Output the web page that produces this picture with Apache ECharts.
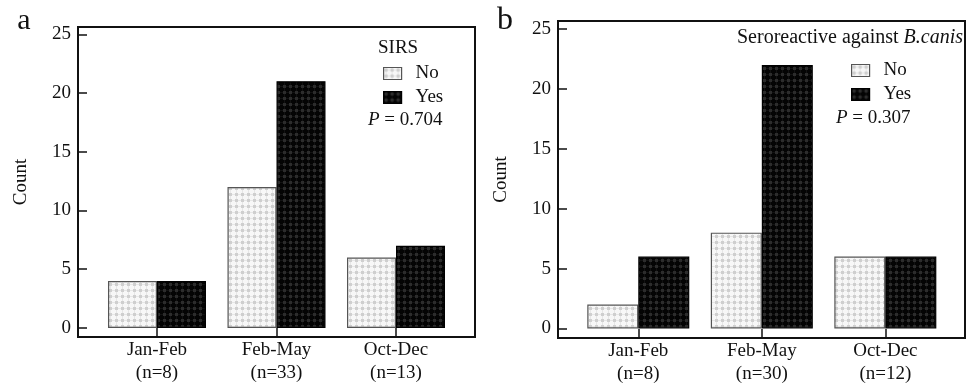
<!DOCTYPE html>
<html><head><meta charset="utf-8">
<script src="https://cdn.jsdelivr.net/npm/echarts@6/dist/echarts.min.js"></script>
<style>html,body{margin:0;padding:0;background:#fff}#c{width:970px;height:386px}</style>
</head><body><div id="c"></div>
<script>
// ---- data ----
const categories = ['Jan-Feb', 'Feb-May', 'Oct-Dec'];
const nA = [8, 33, 13];
const nB = [8, 30, 12];
const noA = [4, 12, 6];
const yesA = [4, 21, 7];
const noB = [2, 8, 6];
const yesB = [6, 22, 6];
const yTicks = [0, 5, 10, 15, 20, 25];
const xTicks = [0, 1, 2];
const seriesNames = ['No', 'Yes'];

function makePattern(bg, dot, light) {
  const c = document.createElement('canvas');
  c.width = 6; c.height = 6;
  const g = c.getContext('2d');
  g.fillStyle = bg; g.fillRect(0, 0, 6, 6);
  g.fillStyle = light; g.fillRect(0, 2, 6, 1); g.fillRect(2, 0, 1, 6);
  g.fillStyle = dot; g.fillRect(1, 1, 3, 3);
  return c;
}
const patNo = { image: makePattern('#f7f7f7', '#cfcfcf', '#e6e6e6'), repeat: 'repeat' };
const patYes = { image: makePattern('#040404', '#2c2c2c', '#121212'), repeat: 'repeat' };

const FONT = 'Liberation Serif';
const TXT = '#111';

function grid(left, top, right, bottom) {
  return { left, top, right, bottom, show: true, borderColor: '#111', borderWidth: 2, containLabel: false };
}
function xAxis(idx, min, max, ns) {
  return {
    gridIndex: idx, type: 'value', min, max,
    axisLine: { show: true, onZero: false, lineStyle: { color: '#111', width: 2 } },
    axisTick: { show: true, inside: true, length: 9, lineStyle: { color: '#111', width: 1.5 }, customValues: xTicks },
    axisLabel: {
      customValues: xTicks, margin: 2, color: TXT, fontFamily: FONT, fontSize: 19, lineHeight: 23,
      formatter: v => categories[v] + '\n(n=' + ns[v] + ')'
    },
    splitLine: { show: false }
  };
}
function yAxis(idx, min, max, gap) {
  return {
    gridIndex: idx, type: 'value', min, max,
    name: 'Count', nameLocation: 'middle', nameRotate: 90, nameGap: gap,
    nameTextStyle: { color: TXT, fontFamily: FONT, fontSize: 19 },
    axisLine: { show: true, onZero: false, lineStyle: { color: '#111', width: 2 } },
    axisTick: { show: true, inside: true, length: 9, lineStyle: { color: '#111', width: 1.5 }, customValues: yTicks },
    axisLabel: { customValues: yTicks, margin: 7, color: TXT, fontFamily: FONT, fontSize: 19 },
    splitLine: { show: false }
  };
}
function bar(name, data, idx, pat, border, w) {
  return {
    type: 'bar', name, xAxisIndex: idx, yAxisIndex: idx,
    data: data.map((v, i) => [i, v]), barWidth: w, barGap: '0%',
    itemStyle: { color: pat, borderColor: border, borderWidth: 1.2 },
    emphasis: { disabled: true }, animation: false
  };
}
function txt(x, y, text, size, align, rich) {
  return {
    type: 'text', x, y, silent: true,
    style: { text, fill: TXT, font: size + 'px "' + FONT + '"', align: align || 'left', verticalAlign: 'middle', rich: rich || {} }
  };
}
const richI = { i: { fontStyle: 'italic', fontSize: 19, fontFamily: FONT, fill: TXT } };
const richI20 = { i: { fontStyle: 'italic', fontSize: 20, fontFamily: FONT, fill: TXT } };

function legend(left, top, idxs) {
  return {
    orient: 'vertical', left, top, itemWidth: 18, itemHeight: 12, itemGap: 5, icon: 'rect',
    textStyle: { color: TXT, fontFamily: FONT, fontSize: 19, padding: [0, 0, 0, 9] },
    selectedMode: false, seriesIndex: idxs,
    data: seriesNames.map(n => ({ name: n, icon: 'rect', itemStyle: { borderColor: n === 'No' ? '#555' : '#000', borderWidth: 1.2 } }))
  };
}

const chart = echarts.init(document.getElementById('c'), null, { renderer: 'canvas' });
chart.setOption({
  animation: false,
  backgroundColor: '#fff',
  grid: [grid(78, 27, 495, 49), grid(558, 21, 5, 44)],
  xAxis: [xAxis(0, -0.661, 2.661, nA), xAxis(1, -0.65, 2.645, nB)],
  yAxis: [yAxis(0, -0.77, 25.62, 47), yAxis(1, -0.80, 25.68, 47)],
  legend: [legend(378, 59, [0, 1]), legend(846, 56, [2, 3])],
  series: [
    bar('No', noA, 0, patNo, '#555', 49),
    bar('Yes', yesA, 0, patYes, '#000', 49),
    bar('No', noB, 1, patNo, '#555', 51),
    bar('Yes', yesB, 1, patYes, '#000', 51)
  ],
  graphic: [
    txt(24, 21, 'a', 30, 'center'),
    txt(505, 21, 'b', 32, 'center'),
    txt(378, 48, 'SIRS', 19),
    txt(368, 120, '{i|P} = 0.704', 19, 'left', richI),
    txt(963, 38, 'Seroreactive against {i|B.canis}', 20, 'right', richI20),
    txt(836, 118, '{i|P} = 0.307', 19, 'left', richI)
  ]
});
</script></body></html>
